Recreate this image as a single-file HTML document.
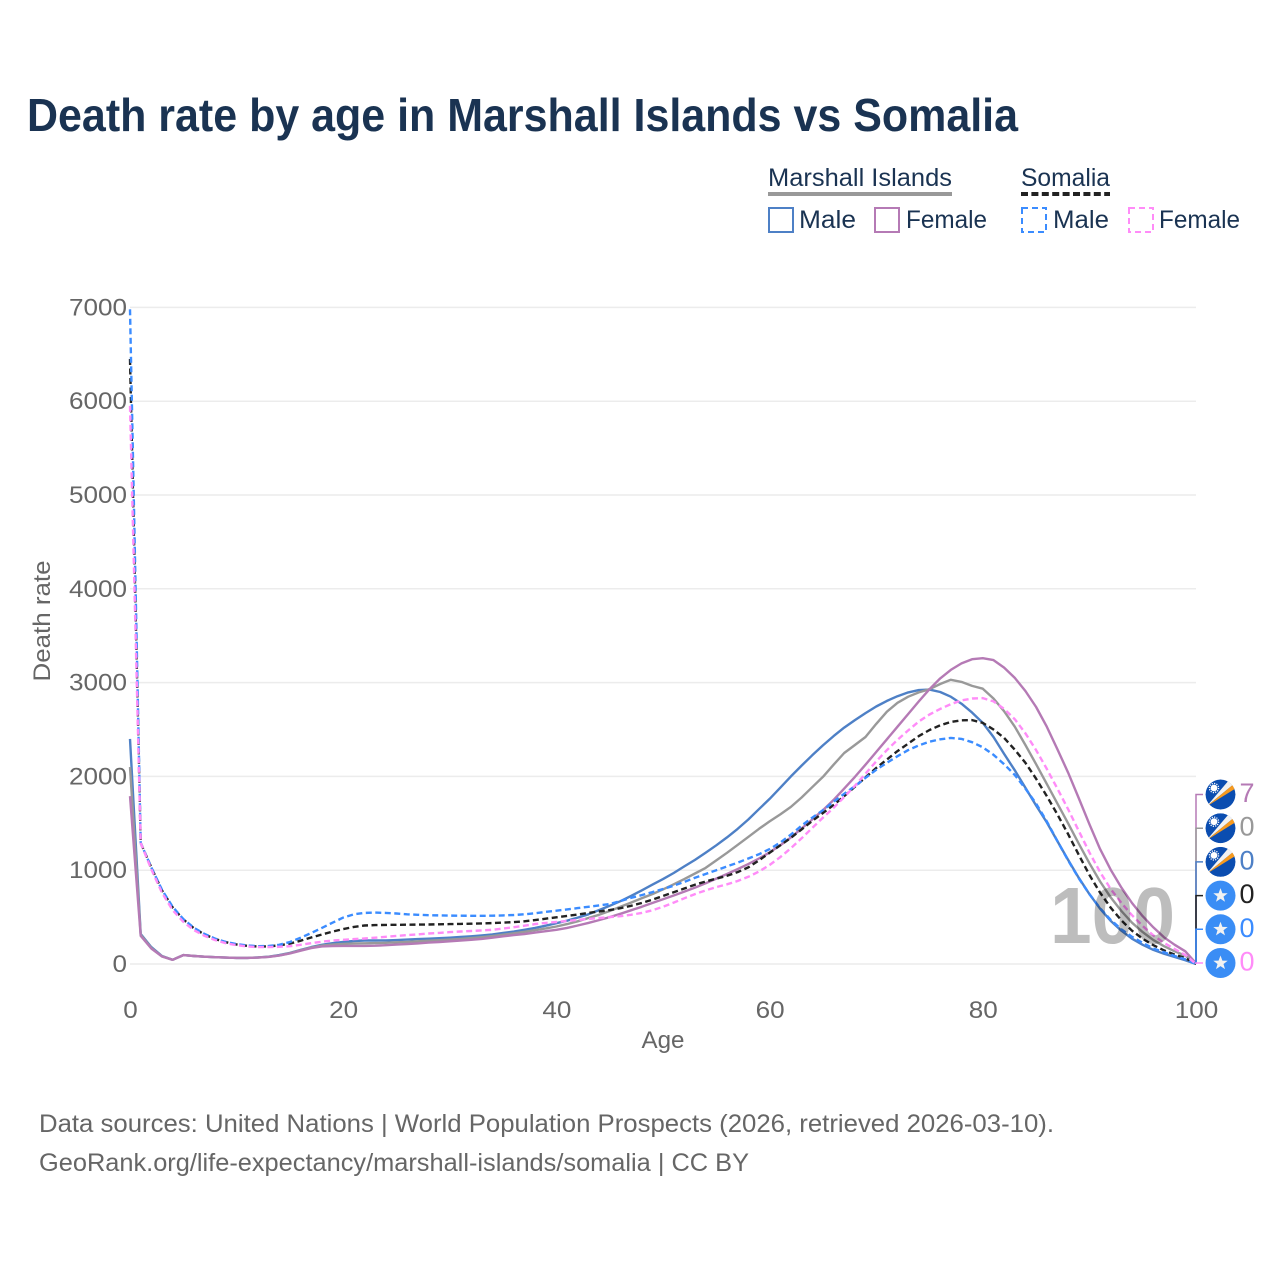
<!DOCTYPE html>
<html lang="en">
<head>
<meta charset="utf-8">
<title>Death rate by age in Marshall Islands vs Somalia</title>
<style>
html,body{margin:0;padding:0;background:#fff;width:1280px;height:1280px;overflow:hidden}
svg{display:block}
text{font-family:"Liberation Sans",sans-serif}
</style>
</head>
<body>
<svg id="chart" xmlns="http://www.w3.org/2000/svg" width="1280" height="1280" viewBox="0 0 1280 1280">
<rect width="1280" height="1280" fill="#fff"/>
<text x="27" y="131" font-size="46" font-weight="bold" fill="#1a3352" textLength="991" lengthAdjust="spacingAndGlyphs">Death rate by age in Marshall Islands vs Somalia</text>

<g font-size="25" fill="#1a3352">
<text x="768" y="186" textLength="184" lengthAdjust="spacingAndGlyphs">Marshall Islands</text>
<rect x="768" y="192" width="184" height="4" fill="#999"/>
<text x="1021" y="186" textLength="89" lengthAdjust="spacingAndGlyphs">Somalia</text>
<line x1="1021" y1="194" x2="1110" y2="194" stroke="#222" stroke-width="4" stroke-dasharray="7 3.4"/>
<rect x="769" y="208" width="24" height="24" fill="none" stroke="#4e80c6" stroke-width="2"/>
<text x="799" y="228" textLength="57" lengthAdjust="spacingAndGlyphs">Male</text>
<rect x="875" y="208" width="24" height="24" fill="none" stroke="#b57ab5" stroke-width="2"/>
<text x="906" y="228" textLength="81" lengthAdjust="spacingAndGlyphs">Female</text>
<rect x="1022" y="208" width="24" height="24" fill="none" stroke="#3b8cff" stroke-width="2" stroke-dasharray="6 4"/>
<text x="1053" y="228" textLength="56" lengthAdjust="spacingAndGlyphs">Male</text>
<rect x="1129" y="208" width="24" height="24" fill="none" stroke="#ff8cf8" stroke-width="2" stroke-dasharray="6 4"/>
<text x="1159" y="228" textLength="81" lengthAdjust="spacingAndGlyphs">Female</text>
</g>

<g id="grid"></g>
<g id="yticks"></g>
<g id="xticks"></g>
<text transform="translate(50 621) rotate(-90)" text-anchor="middle" font-size="24" fill="#666" textLength="121" lengthAdjust="spacingAndGlyphs">Death rate</text>
<text x="663" y="1048" text-anchor="middle" font-size="24" fill="#666" textLength="43" lengthAdjust="spacingAndGlyphs">Age</text>

<g id="lines"></g>
<g id="ends"></g>

<text x="1050" y="943" font-size="80" font-weight="bold" fill="#000" fill-opacity="0.26" textLength="125" lengthAdjust="spacingAndGlyphs">100</text>

<g font-size="25" fill="#666">
<text x="39" y="1132" textLength="1015" lengthAdjust="spacingAndGlyphs">Data sources: United Nations | World Population Prospects (2026, retrieved 2026-03-10).</text>
<text x="39" y="1171" textLength="710" lengthAdjust="spacingAndGlyphs">GeoRank.org/life-expectancy/marshall-islands/somalia | CC BY</text>
</g>
</svg>
<script>
const yTickValues = [0, 1000, 2000, 3000, 4000, 5000, 6000, 7000];
const xTickValues = [0, 20, 40, 60, 80, 100];

const marshallMale = [2400,320,180,85,45,95,85,78,72,68,65,65,70,78,95,118,150,180,205,222,235,245,250,250,252,255,260,265,270,275,280,288,295,305,315,330,345,365,385,408,435,462,495,530,575,620,670,725,785,845,905,970,1040,1110,1185,1265,1350,1440,1540,1650,1760,1880,2000,2115,2225,2330,2430,2520,2600,2675,2745,2805,2855,2895,2920,2925,2900,2850,2775,2680,2570,2420,2240,2065,1880,1690,1510,1310,1110,920,745,590,460,355,270,205,150,110,75,40,0];
const marshallBoth = [2100,310,172,82,45,95,85,78,72,68,65,65,69,77,92,115,146,175,196,207,214,219,221,223,226,231,236,242,248,254,260,268,276,286,297,312,327,343,360,380,400,425,455,490,525,565,610,655,700,745,795,850,905,965,1025,1105,1185,1270,1355,1440,1520,1595,1675,1775,1885,1995,2125,2250,2335,2420,2560,2690,2785,2850,2895,2930,2985,3030,3007,2965,2935,2830,2695,2530,2335,2130,1920,1710,1500,1285,1075,880,710,565,440,340,255,190,135,90,0];
const marshallFemale = [1790,300,165,80,45,95,85,78,72,68,65,65,68,76,90,112,142,170,188,192,193,193,193,195,200,207,213,220,228,235,242,250,258,268,280,295,308,320,335,350,365,385,410,438,468,500,535,572,610,650,690,730,772,815,860,910,960,1012,1065,1125,1190,1265,1350,1445,1540,1640,1750,1870,1995,2125,2260,2395,2530,2665,2800,2930,3045,3135,3205,3250,3260,3240,3160,3050,2910,2740,2530,2290,2040,1770,1490,1225,1005,815,650,510,390,285,205,135,7];
const somaliaBoth = [6450,1290,1030,785,605,475,380,315,265,232,208,194,187,188,198,218,248,282,315,345,372,395,410,415,417,418,419,420,421,423,425,427,430,433,436,441,447,455,468,483,498,513,528,545,560,575,595,620,650,685,725,765,805,845,880,910,940,980,1030,1105,1185,1265,1345,1435,1525,1610,1695,1790,1890,1990,2090,2180,2270,2350,2430,2495,2545,2580,2598,2600,2570,2500,2410,2285,2145,1975,1790,1595,1385,1165,950,760,600,465,355,270,200,145,100,64,0];
const somaliaMale = [6980,1290,1030,790,610,480,385,320,270,235,212,197,190,192,205,235,280,330,385,440,495,530,545,548,545,538,530,524,520,518,516,515,514,514,515,518,522,530,542,555,568,582,596,610,625,640,672,705,735,765,800,835,875,920,960,1000,1040,1080,1125,1170,1225,1295,1380,1475,1560,1640,1730,1815,1895,1985,2070,2145,2215,2280,2330,2370,2395,2410,2400,2365,2310,2230,2130,2015,1870,1710,1520,1310,1105,915,745,595,470,370,290,225,165,125,85,50,0];
const somaliaFemale = [5950,1290,1010,760,575,450,360,300,255,222,200,187,180,180,183,190,205,222,238,250,258,265,272,280,290,300,308,316,325,332,340,346,352,358,365,378,392,408,425,438,448,458,470,480,490,500,510,525,545,572,610,655,700,745,785,820,850,885,930,985,1055,1140,1235,1340,1450,1560,1665,1780,1900,2030,2160,2280,2390,2490,2585,2660,2720,2770,2810,2830,2835,2800,2720,2610,2460,2280,2080,1870,1650,1420,1190,980,800,650,520,405,305,225,160,96,0];

const NS = 'http://www.w3.org/2000/svg';
const xScale = function (age) { return 130 + age * 10.66; };
const yScale = function (v) { return 964 - v * 0.0938; };

function make(tag, parent, attrs) {
  const el = document.createElementNS(NS, tag);
  for (const k in attrs) el.setAttribute(k, attrs[k]);
  parent.appendChild(el);
  return el;
}

const gridG = document.getElementById('grid');
const yG = document.getElementById('yticks');
const xG = document.getElementById('xticks');

yTickValues.forEach(function (v) {
  const line = make('line', gridG, {x1: 130, x2: 1196, y1: yScale(v), y2: yScale(v), stroke: '#ececec', 'stroke-width': 1.5});
  
  
  const s = String(v);
  const t = make('text', yG, {x: 127, y: yScale(v) + 8, 'text-anchor': 'end', 'font-size': 24, fill: '#666', textLength: s.length * 14.5, lengthAdjust: 'spacingAndGlyphs'});
  
  
  t.textContent = s;
});

xTickValues.forEach(function (v) {
  const s = String(v);
  const t = make('text', xG, {x: xScale(v) + 0.5, y: 1018, 'text-anchor': 'middle', 'font-size': 24, fill: '#666', textLength: s.length * 14.5, lengthAdjust: 'spacingAndGlyphs'});
  
  
  t.textContent = s;
});

const lineDefs = [
  {key: 'marshall-male', data: marshallMale, color: '#4e80c6', dash: ''},
  {key: 'marshall-both', data: marshallBoth, color: '#999999', dash: ''},
  {key: 'marshall-female', data: marshallFemale, color: '#b57ab5', dash: ''},
  {key: 'somalia-both', data: somaliaBoth, color: '#222222', dash: '6 3.5'},
  {key: 'somalia-male', data: somaliaMale, color: '#3b8cff', dash: '6 3.5'},
  {key: 'somalia-female', data: somaliaFemale, color: '#ff8cf8', dash: '6 3.5'}
];

const linesG = document.getElementById('lines');
lineDefs.forEach(function (d) {
  const pts = d.data.map(function (v, i) { return xScale(i).toFixed(1) + ',' + yScale(v).toFixed(1); }).join(' ');
  const attrs = {points: pts, fill: 'none', stroke: d.color, 'stroke-width': 2.4, 'stroke-linejoin': 'round'};
  if (d.dash) attrs['stroke-dasharray'] = d.dash;
  const p = make('polyline', linesG, attrs);
  
  
});

const endOrder = [
  {key: 'marshall-female', data: marshallFemale, color: '#b57ab5', flag: 'mh'},
  {key: 'marshall-both', data: marshallBoth, color: '#999999', flag: 'mh'},
  {key: 'marshall-male', data: marshallMale, color: '#4e80c6', flag: 'mh'},
  {key: 'somalia-both', data: somaliaBoth, color: '#222222', flag: 'so'},
  {key: 'somalia-male', data: somaliaMale, color: '#3b8cff', flag: 'so'},
  {key: 'somalia-female', data: somaliaFemale, color: '#ff8cf8', flag: 'so'}
];

const endsG = document.getElementById('ends');
const clip = make('clipPath', endsG, {id: 'flag-clip'});
make('circle', clip, {cx: 0, cy: 0, r: 15});

endOrder.forEach(function (d, i) {
  const rowY = 794.5 + i * 33.7;
  const last = d.data[d.data.length - 1];
  const lead = make('polyline', endsG, {points: xScale(100) + ',' + yScale(last) + ' ' + xScale(100) + ',' + rowY + ' 1203,' + rowY, fill: 'none', stroke: d.color, 'stroke-width': 1.5});
  
  

  const flag = make('g', endsG, {transform: 'translate(1220.5 ' + rowY + ')'});
  
  
  if (d.flag === 'mh') {
    const inner = make('g', flag, {'clip-path': 'url(#flag-clip)'});
    make('circle', inner, {cx: 0, cy: 0, r: 15, fill: '#0b4db0'});
    make('polygon', inner, {points: '-14,12 9,-15 14,-11', fill: '#f2f2f2'});
    make('polygon', inner, {points: '-14,12 14,-11 15,-6', fill: '#f79a1e'});
    make('circle', inner, {cx: -6.5, cy: -6.5, r: 3.4, fill: '#fff'});
    make('circle', inner, {cx: -6.5, cy: -6.5, r: 4.6, fill: 'none', stroke: '#fff', 'stroke-width': 1.3, 'stroke-dasharray': '1.2 1.2'});
  } else {
    make('circle', flag, {cx: 0, cy: 0, r: 15, fill: '#3a8df5'});
    make('polygon', flag, {points: '0,-7.5 1.9,-2.4 7.2,-2.3 3,1 4.5,6.1 0,3.1 -4.5,6.1 -3,1 -7.2,-2.3 -1.9,-2.4', fill: '#f2f2f2'});
  }

  const label = make('text', endsG, {x: 1239.5, y: rowY + 7.5, 'font-size': 27, fill: d.color});
  
  
  label.textContent = String(Math.round(last));
});
</script>
</body>
</html>
